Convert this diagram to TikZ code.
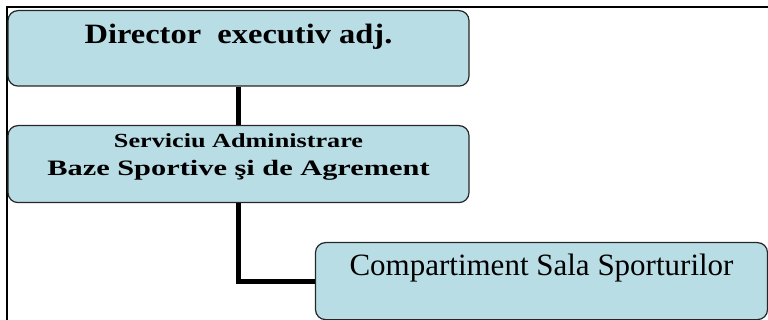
\documentclass[tikz,border=0pt]{standalone}
\usepackage{graphicx}
\usepackage{fontspec}
\setmainfont{Liberation Serif}
\definecolor{boxblue}{RGB}{185,221,229}

\begin{document}
\begin{tikzpicture}[x = 1pt, y = -1pt,
  box/.style = {draw = black!85, line width = 1.2pt, fill = boxblue, rounded corners = 10pt, inner sep = 0pt, anchor = north},
  link/.style = {line width = 5pt}]
\useasboundingbox (0,0) rectangle (768,320);
\draw[line width = 2pt] (6.5,320) -- (6.5,7) -- (768,7);
\node[box, minimum width = 461pt, text height = 32.7pt, text depth = 42.8pt, font = \fontsize{28}{32}\selectfont\bfseries] (dir) at (238.5,10) {\scalebox{1.16}[1]{Director\ \ executiv adj.}};
\node[box, minimum width = 461pt, text height = 50pt, text depth = 27pt, align = center, font = \fontsize{22}{28}\selectfont\bfseries] (srv) at (238.5,125) {{\fontsize{20}{28}\selectfont\scalebox{1.31}[1]{Serviciu Administrare}}\\\scalebox{1.38}[1]{Baze Sportive şi de Agrement}};
\node[box, minimum width = 452pt, text height = 33pt, text depth = 44pt, font = \fontsize{31}{36}\selectfont] (comp) at (541.5,242) {Compartiment Sala Sporturilor};
\draw[link] (dir.south) -- (srv.north);
\draw[link] (srv.south) |- (comp.west);
\end{tikzpicture}
\end{document}
